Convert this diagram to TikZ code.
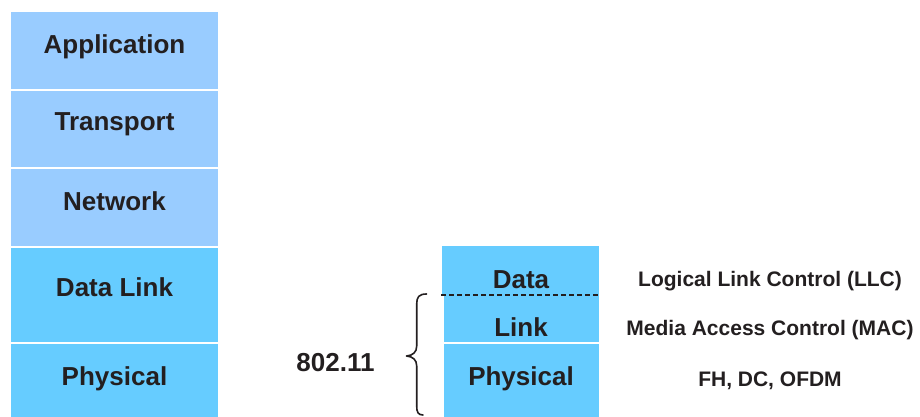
\documentclass[tikz,border=0pt]{standalone}
\usepackage{fontspec}
\setmainfont{Liberation Sans}
\begin{document}
\begin{tikzpicture}[x=1pt,y=-1pt,
  upper/.style={fill=upperblue,draw=none},
  lower/.style={fill=lowerblue,draw=none},
  big/.style={font=\fontsize{26}{28}\selectfont\bfseries,text=ink,inner sep=0pt,anchor=base},
  small/.style={font=\fontsize{21}{23}\selectfont\bfseries,text=ink,inner sep=0pt,anchor=base},
]
\definecolor{upperblue}{HTML}{99CCFF}
\definecolor{lowerblue}{HTML}{66CCFF}
\definecolor{ink}{HTML}{231F20}
\useasboundingbox (0,0) rectangle (920,417);

% Internet protocol stack
\fill[upper] (11,12) rectangle (218,88.7);
\fill[upper] (11,90.7) rectangle (218,166.8);
\fill[upper] (11,169) rectangle (218,245.8);
\fill[lower] (11,248) rectangle (218,342);
\fill[lower] (11,344) rectangle (218,418);
\node[big] (app) at (114.5,53.3) {Application};
\node[big] (trn) at (114.5,130) {Transport};
\node[big] (net) at (114.5,210) {Network};
\node[big] (dl)  at (114.5,296.7) {Data Link};
\node[big] (phy) at (114.5,385) {Physical};

% 802.11 sublayers
\fill[lower] (442,246) rectangle (599,295);
\fill[lower] (444,295) rectangle (599,342);
\fill[lower] (444,344) rectangle (599,418);
\draw[ink,line width=1.6pt,dash pattern=on 5pt off 3pt] (441,295) -- (599,295);
\node[big] (rdata) at (521,288.3) {Data};
\node[big] (rlink) at (521,336.7) {Link};
\node[big] (rphy)  at (521,385) {Physical};

% brace grouping the sublayers
\draw[ink,line width=1.6pt,line cap=round,line join=round]
  (426.5,294) .. controls (419,294) and (416.7,297) .. (416.7,304)
  -- (416.7,346) .. controls (416.7,352) and (413,355.5) .. (406.5,356)
  .. controls (413,356.5) and (416.7,360) .. (416.7,366)
  -- (416.7,406) .. controls (416.7,412) and (418,415) .. (423,415);
\node[big] (std) at (335.5,371.7) {802.11};

% sublayer descriptions
\node[small] (llc) at (770,286) {Logical Link Control (LLC)};
\node[small] (mac) at (770,335) {Media Access Control (MAC)};
\node[small] (phl) at (770,386) {FH, DC, OFDM};
\end{tikzpicture}
\end{document}
